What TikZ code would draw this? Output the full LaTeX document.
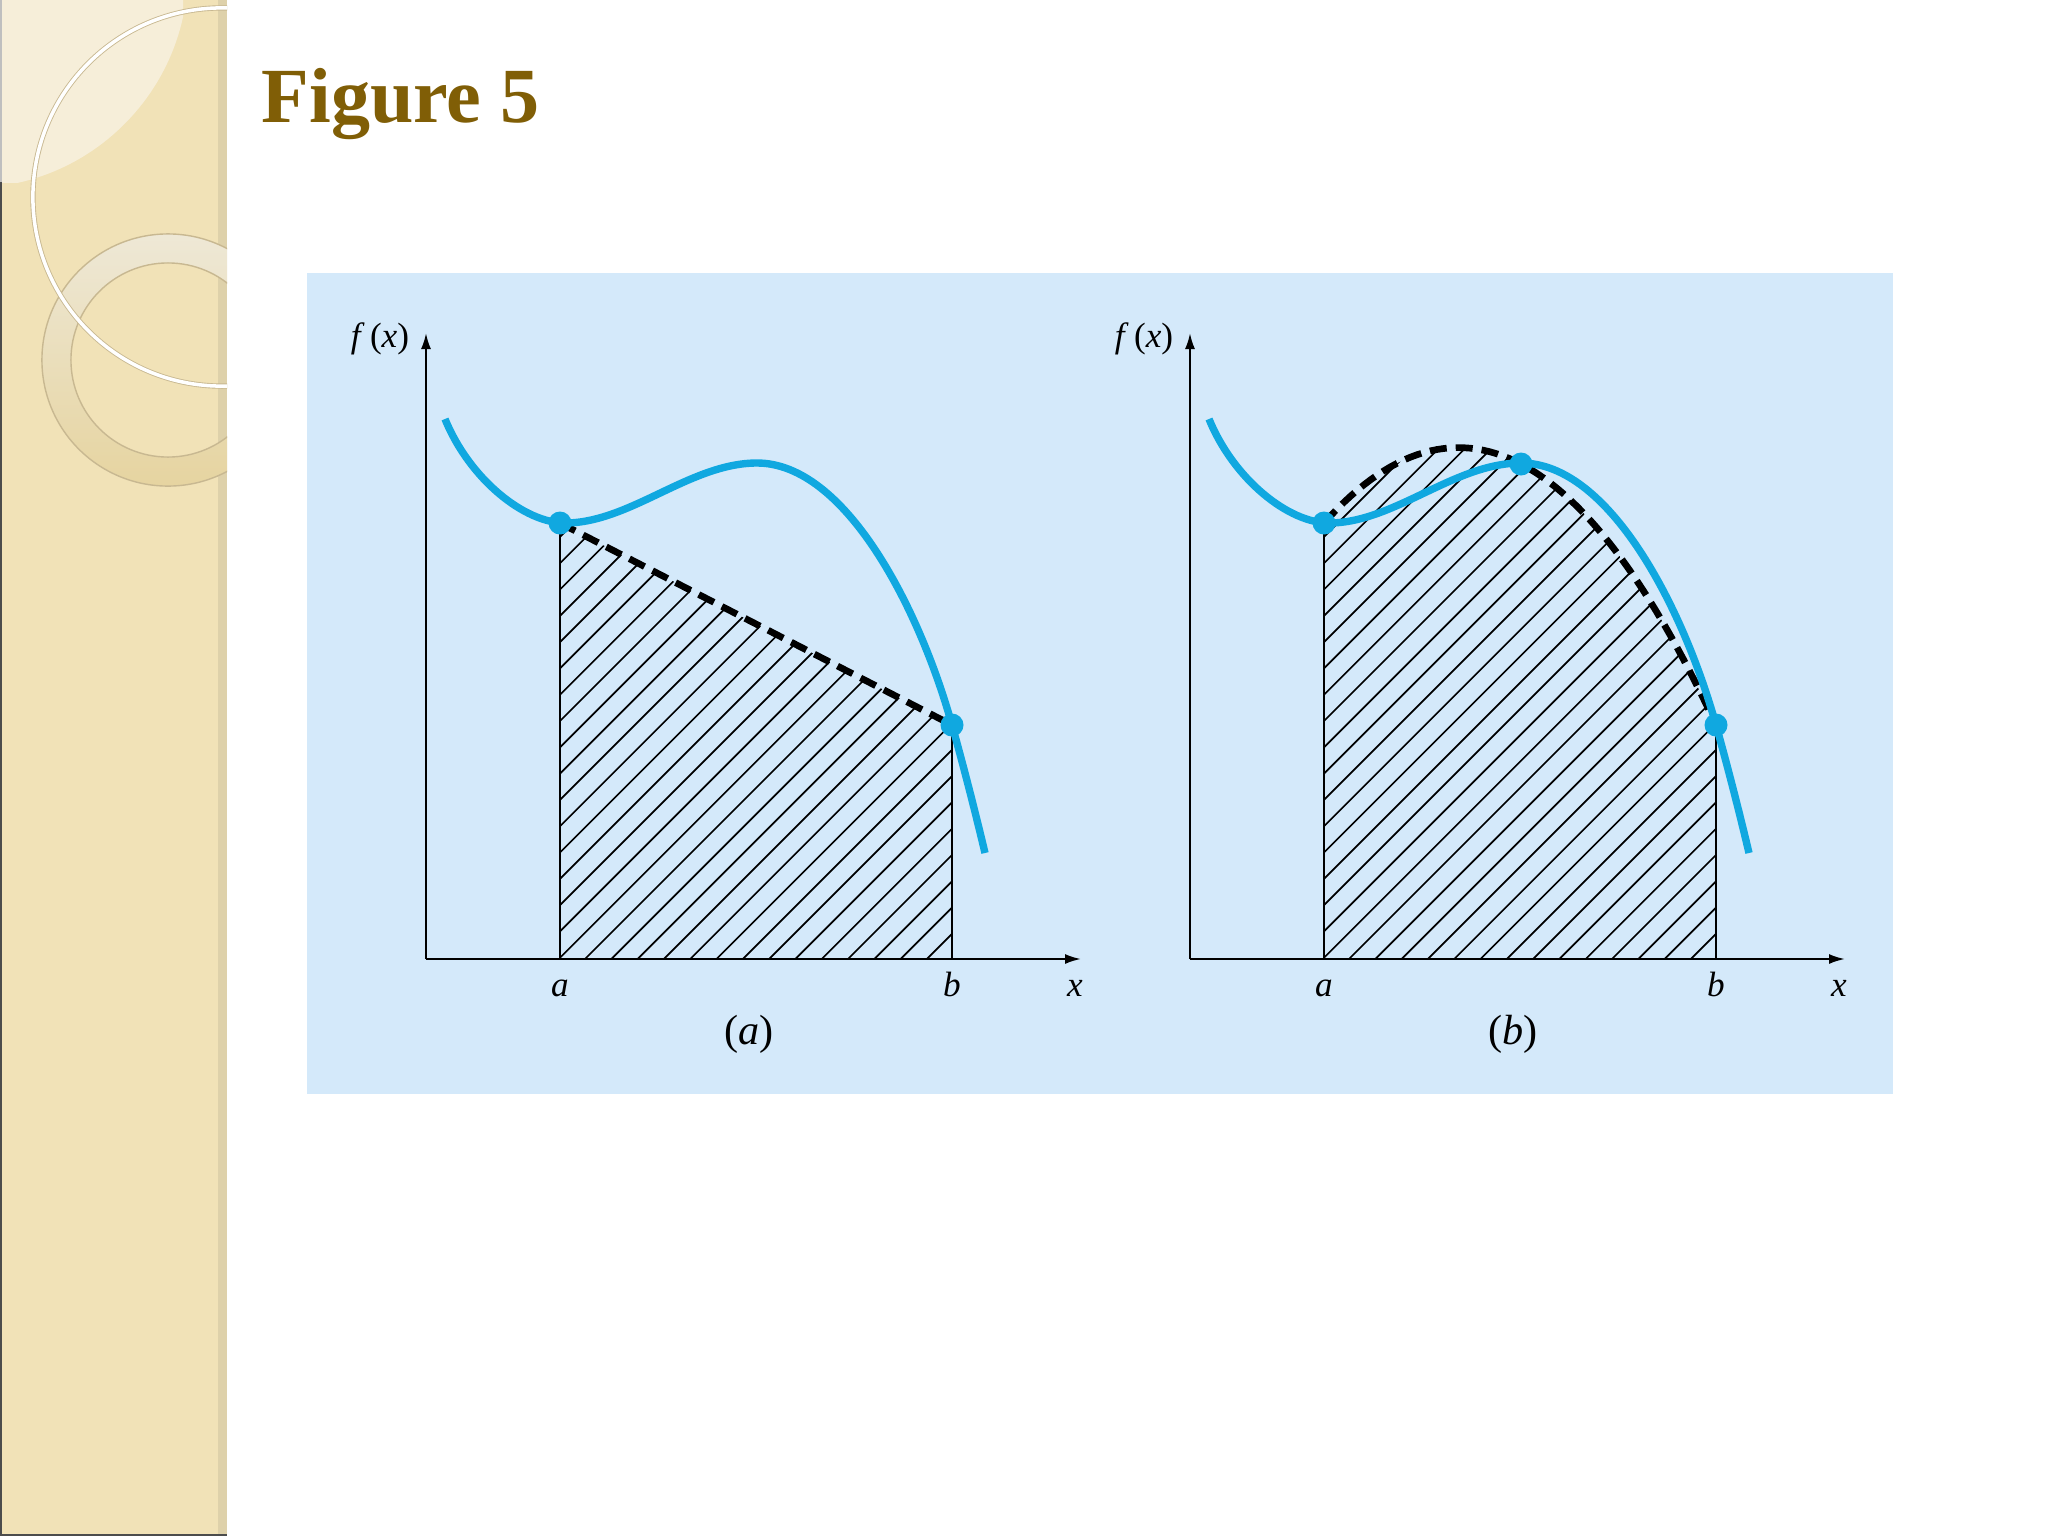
\documentclass[tikz,border=0pt]{standalone}
\usepackage{fontspec}
\setmainfont{Liberation Serif}
\usetikzlibrary{arrows.meta}
\definecolor{beige}{RGB}{241,226,183}
\definecolor{beigelight}{RGB}{246,238,217}
\definecolor{beigedark}{RGB}{222,209,170}
\definecolor{ringtop}{RGB}{238,232,214}
\definecolor{ringbot}{RGB}{230,212,160}
\definecolor{ringedge}{RGB}{200,184,145}
\definecolor{titlebrown}{RGB}{128,94,6}
\definecolor{panelblue}{RGB}{212,233,250}
\definecolor{curveblue}{RGB}{16,168,224}
\tikzset{
  axisline/.style={line width=0.6pt, black, -{Latex[length=0.16cm,width=0.1cm]}},
  bluecurve/.style={curveblue, line width=2.1pt},
  dashline/.style={black, line width=1.9pt, dash pattern=on 0.17cm off 0.09cm},
  hatchline/.style={black, line width=0.48pt},
  edgeline/.style={black, line width=0.55pt},
  dot/.style={circle, fill=curveblue, minimum size=0.23cm, inner sep=0pt},
  lbl/.style={font=\fontsize{10}{12}\selectfont, inner sep=0pt, anchor=base},
  capt/.style={font=\fontsize{12}{14}\selectfont, inner sep=0pt, anchor=base},
}
\def\curvepath{(445,419) .. controls (470,480) and (525,523) .. (565,523)
  .. controls (630,523) and (690,463) .. (757,463)
  .. controls (845,463) and (919,607) .. (952,725)
  .. controls (964,768) and (975,811) .. (985,853)}
\begin{document}
\begin{tikzpicture}[x=0.01cm, y=-0.01cm]
\useasboundingbox (0,0) rectangle (2048,1536);
\fill[white] (0,0) rectangle (2048,1536);
% decorative strip
\fill[beige] (0,0) rectangle (218,1536);
\fill[beigedark] (218,0) rectangle (227,1536);
\begin{scope}
  \clip (0,0) rectangle (183,182);
  \fill[beigelight] (-30,-30) circle[radius=2.18cm];
\end{scope}
\begin{scope}
  \clip (0,0) rectangle (227,1536);
  \shade[even odd rule, top color=ringtop, bottom color=ringbot]
    (168,360) circle[radius=1.26cm] (168,360) circle[radius=0.97cm];
  \draw[ringedge, line width=0.4pt] (168,360) circle[radius=1.26cm] (168,360) circle[radius=0.97cm];
  \draw[ringedge, line width=1.5pt] (222,197) circle[radius=1.89cm];
  \draw[white, line width=1.0pt] (222,197) circle[radius=1.89cm];
\end{scope}
\draw[black!70, line width=0.6pt] (1,182) -- (1,1536);
\draw[black!25, line width=0.6pt] (1,0) -- (1,182);
\draw[black!70, line width=0.6pt] (0,1535) -- (227,1535);
% title
\node[anchor=base west, inner sep=0pt, text=titlebrown, font=\fontsize{22.2}{26}\selectfont\bfseries] (title) at (261,122) {Figure 5};
% panel
\fill[panelblue] (307,273) rectangle (1893,1094);

% ---------- panel (a) ----------
\coordinate (pa1) at (560,523);
\coordinate (pb1) at (952,725);
\coordinate (fa1) at (560,959);
\coordinate (fb1) at (952,959);
\begin{scope}
  \clip (fa1) -- (pa1) -- (pb1) -- (fb1) -- cycle;
  \foreach \k in {-18,...,15} \draw[hatchline] ({585+26.3*\k},959) -- ++(600,-600);
\end{scope}
\draw[edgeline] (fa1) -- (pa1);
\draw[edgeline] (fb1) -- (pb1);
\draw[dashline] (pa1) -- (pb1);
\coordinate (O1) at (426,959);
\coordinate (Y1) at (426,333);
\coordinate (X1) at (1081,959);
\draw[axisline] (O1) -- (Y1);
\draw[axisline] (O1) -- (X1);
\draw[bluecurve] \curvepath;
\node[dot] (da1) at (pa1) {};
\node[dot] (db1) at (pb1) {};
\node[lbl] (fx1) at (380,347) {\textit{f}\kern1.5pt(\textit{x})};
\node[lbl] (la1) at (560,996) {\textit{a}};
\node[lbl] (lb1) at (952,996) {\textit{b}};
\node[lbl] (lx1) at (1075,996) {\textit{x}};
\node[capt] (cap1) at (749,1044) {(\textit{a})};

% ---------- panel (b) ----------
\coordinate (pa2) at (1324,523);
\coordinate (pm2) at (1521,464);
\coordinate (pb2) at (1716,725);
\coordinate (fa2) at (1324,959);
\coordinate (fb2) at (1716,959);
\begin{scope}
  \clip (fa2) -- plot[domain=0:3.92, samples=60, variable=\t] ({1324+100*\t},{523-112.265*\t+41.785*\t*\t}) -- (fb2) -- cycle;
  \foreach \k in {-21,...,15} \draw[hatchline] ({1349+26.3*\k},959) -- ++(600,-600);
\end{scope}
\draw[edgeline] (fa2) -- (pa2);
\draw[edgeline] (fb2) -- (pb2);
\draw[dashline] plot[domain=0:3.92, samples=60, variable=\t] ({1324+100*\t},{523-112.265*\t+41.785*\t*\t});
\coordinate (O2) at (1190,959);
\coordinate (Y2) at (1190,333);
\coordinate (X2) at (1845,959);
\draw[axisline] (O2) -- (Y2);
\draw[axisline] (O2) -- (X2);
\begin{scope}[shift={(764,0)}]
  \draw[bluecurve] \curvepath;
\end{scope}
\node[dot] (da2) at (pa2) {};
\node[dot] (dm2) at (pm2) {};
\node[dot] (db2) at (pb2) {};
\node[lbl] (fx2) at (1144,347) {\textit{f}\kern1.5pt(\textit{x})};
\node[lbl] (la2) at (1324,996) {\textit{a}};
\node[lbl] (lb2) at (1716,996) {\textit{b}};
\node[lbl] (lx2) at (1839,996) {\textit{x}};
\node[capt] (cap2) at (1513,1044) {(\textit{b})};
\end{tikzpicture}
\end{document}
